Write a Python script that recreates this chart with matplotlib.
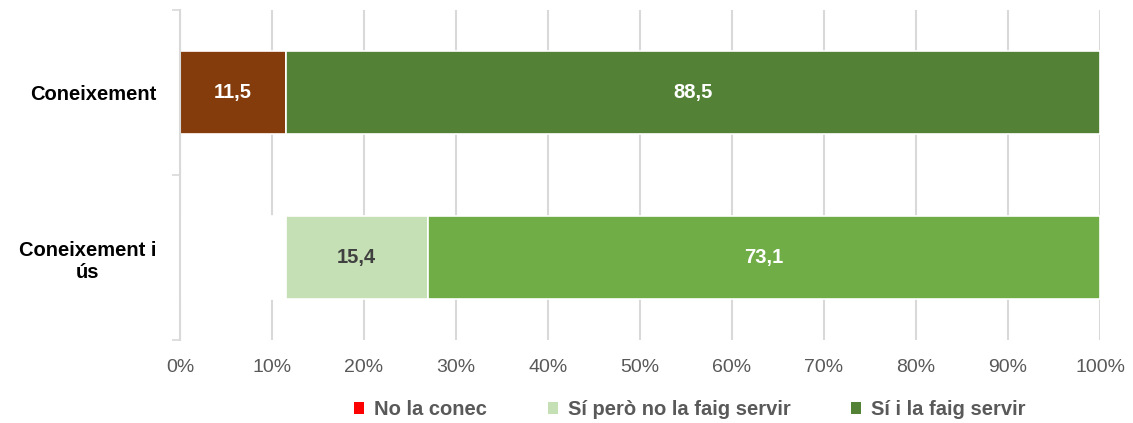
import matplotlib.pyplot as plt
from matplotlib.patches import Patch
import numpy as np

plt.rcParams['font.family'] = ['Liberation Sans', 'DejaVu Sans']

categories = ["Coneixement", "Coneixement i\nús"]
series_names = ["No la conec", "Sí però no la faig servir", "Sí i la faig servir"]
no_la_conec = [11.5, 11.5]
si_no_serveix = [0.0, 15.4]
si_serveix = [88.5, 73.1]
show_label = [[True, False], [False, True], [True, True]]

# per-bar colours (row 0, row 1) and legend swatches
bar_colors = [["#843C0C", "#FFFFFF"],
              ["#C5E0B4", "#C5E0B4"],
              ["#538135", "#70AD47"]]
legend_colors = ["#FF0000", "#C5E0B4", "#538135"]
text_colors = [["white", "white"], ["#404040", "#404040"], ["white", "white"]]

fig = plt.figure(figsize=(11.33, 4.23), dpi=100)
ax = fig.add_axes([0.1589, 0.1962, 0.8120, 0.7802])

y = np.arange(len(categories))
left = np.zeros(len(categories))
for k, vals in enumerate([no_la_conec, si_no_serveix, si_serveix]):
    vals = np.array(vals)
    bars = ax.barh(y, vals, left=left, height=0.5, color=bar_colors[k],
                   edgecolor="white", linewidth=1.2, zorder=2)
    for i, b in enumerate(bars):
        if show_label[k][i] and vals[i] > 0:
            ax.text(left[i] + vals[i] / 2, y[i], f"{vals[i]:.1f}".replace(".", ","),
                    ha="center", va="center", fontsize=14.5, fontweight="bold",
                    color=text_colors[k][i], zorder=3)
    left += vals

ax.set_xlim(0, 100)
ax.set_ylim(1.5, -0.5)
ax.set_xticks(np.arange(0, 101, 10))
ax.set_xticklabels([f"{v}%" for v in range(0, 101, 10)], fontsize=14, color="#595959")
ax.set_yticks(y)
ax.set_yticklabels(categories, fontsize=14.5, fontweight="bold", color="black",
                   multialignment="center")
ax.set_yticks([-0.5, 0.5, 1.5], minor=True)
ax.tick_params(axis="y", which="major", length=0, pad=17)
ax.tick_params(axis="y", which="minor", length=6, color="#D9D9D9", width=1.2)
ax.tick_params(axis="x", length=0, pad=14)

ax.grid(axis="x", color="#D9D9D9", linewidth=1.5, zorder=0)
ax.set_axisbelow(True)
for side in ["top", "right", "bottom"]:
    ax.spines[side].set_visible(False)
ax.spines["left"].set_color("#D9D9D9")
ax.spines["left"].set_linewidth(1.5)

handles = [Patch(facecolor=c, edgecolor="none") for c in legend_colors]
leg = fig.legend(handles, series_names, loc="center", ncol=3, frameon=False,
                 bbox_to_anchor=(0.609, 0.031), handlelength=0.5, handleheight=0.5,
                 handletextpad=0.5, columnspacing=3.0,
                 prop={"size": 14.5, "weight": "bold"})
for t in leg.get_texts():
    t.set_color("#595959")

fig.savefig("out.png", dpi=100)
